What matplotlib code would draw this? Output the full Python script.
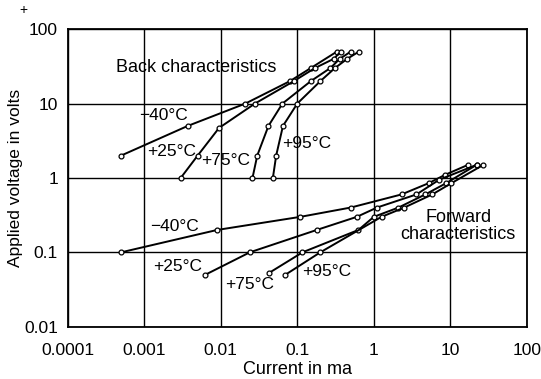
import numpy as np
import matplotlib
matplotlib.use('Agg')
import matplotlib.pyplot as plt

plt.rcParams['font.family'] = ['Liberation Sans', 'DejaVu Sans']

# back characteristics (current in ma, applied voltage in volts)
back_m40_i = [0.0005, 0.0037, 0.021, 0.08, 0.15, 0.33]
back_m40_v = [2, 5, 10, 20, 30, 50]
back_p25_i = [0.003, 0.005, 0.0095, 0.028, 0.09, 0.17, 0.3, 0.37]
back_p25_v = [1, 2, 4.7, 10, 20, 30, 40, 50]
back_p75_i = [0.026, 0.03, 0.042, 0.064, 0.15, 0.27, 0.36, 0.5]
back_p75_v = [1, 2, 5, 10, 20, 30, 40, 50]
back_p95_i = [0.048, 0.053, 0.065, 0.1, 0.2, 0.31, 0.45, 0.64]
back_p95_v = [1, 2, 5, 10, 20, 30, 40, 50]

# forward characteristics
fwd_m40_i = [0.0005, 0.009, 0.11, 0.5, 2.3, 5.2, 8.5, 17]
fwd_m40_v = [0.1, 0.2, 0.3, 0.4, 0.6, 0.85, 1.1, 1.5]
fwd_p25_i = [0.0063, 0.024, 0.18, 0.6, 1.1, 3.6, 7.2, 22]
fwd_p25_v = [0.05, 0.1, 0.2, 0.3, 0.4, 0.6, 0.95, 1.5]
fwd_p75_i = [0.043, 0.117, 0.63, 1.0, 2.1, 4.7, 8.8, 22]
fwd_p75_v = [0.053, 0.1, 0.2, 0.3, 0.4, 0.6, 0.85, 1.5]
fwd_p95_i = [0.07, 0.2, 1.26, 2.5, 5.8, 10.3, 27]
fwd_p95_v = [0.05, 0.1, 0.3, 0.4, 0.6, 0.85, 1.5]

series = [
    (back_m40_i, back_m40_v), (back_p25_i, back_p25_v),
    (back_p75_i, back_p75_v), (back_p95_i, back_p95_v),
    (fwd_m40_i, fwd_m40_v), (fwd_p25_i, fwd_p25_v),
    (fwd_p75_i, fwd_p75_v), (fwd_p95_i, fwd_p95_v),
]

fig = plt.figure(figsize=(5.41, 3.79), dpi=100)
ax = fig.add_axes([0.125, 0.138, 0.849, 0.785])

for xs, ys in series:
    ax.plot(xs, ys, color='black', lw=1.4, marker='o', ms=3.5,
            mfc='white', mec='black', mew=0.9)

ax.set_xscale('log')
ax.set_yscale('log')
ax.set_xlim(1e-4, 100)
ax.set_ylim(0.01, 100)
ax.set_xticks([1e-4, 1e-3, 1e-2, 0.1, 1, 10, 100])
ax.set_xticklabels(['0.0001', '0.001', '0.01', '0.1', '1', '10', '100'])
ax.set_yticks([0.01, 0.1, 1, 10, 100])
ax.set_yticklabels(['0.01', '0.1', '1', '10', '100'])
ax.minorticks_off()
ax.tick_params(axis='x', length=0, labelsize=12.5, pad=12)
ax.tick_params(axis='y', length=0, labelsize=12.5, pad=7)
ax.grid(True, color='black', lw=1.0)
for s in ax.spines.values():
    s.set_linewidth(1.3)

ax.set_xlabel('Current in ma', fontsize=13, labelpad=2)
ax.set_ylabel('Applied voltage in volts', fontsize=12.5, labelpad=1)

fs = 12.5
ax.text(0.0048, 31, 'Back characteristics', fontsize=13, ha='center', va='center')
ax.text(12.6, 0.224, 'Forward\ncharacteristics', fontsize=13, ha='center', va='center',
        linespacing=1.0)
ax.text(0.00181, 6.95, '\u221240\u00b0C', fontsize=fs, ha='center', va='center')
ax.text(0.00227, 2.25, '+25\u00b0C', fontsize=fs, ha='center', va='center')
ax.text(0.0117, 1.69, '+75\u00b0C', fontsize=fs, ha='center', va='center')
ax.text(0.133, 2.9, '+95\u00b0C', fontsize=fs, ha='center', va='center')
ax.text(0.00247, 0.219, '\u221240\u00b0C', fontsize=fs, ha='center', va='center')
ax.text(0.0027, 0.0653, '+25\u00b0C', fontsize=fs, ha='center', va='center')
ax.text(0.024, 0.0372, '+75\u00b0C', fontsize=fs, ha='center', va='center')
ax.text(0.24, 0.056, '+95\u00b0C', fontsize=fs, ha='center', va='center')

fig.text(23.5 / 541, 1 - 9.7 / 379, '+', fontsize=10, ha='center', va='center')

fig.savefig('out.png', dpi=100)
